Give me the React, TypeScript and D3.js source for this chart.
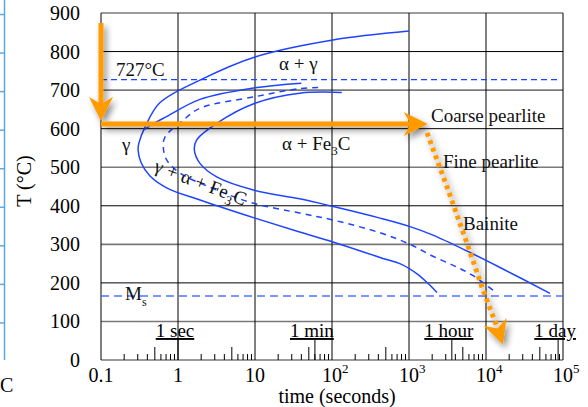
import React from "react";
import * as d3 from "d3";

// axis values
const tempTicks = [0, 100, 200, 300, 400, 500, 600, 700, 800, 900];
const timeTicks = [0.1, 1, 10, 100, 1000, 10000, 100000];
const timeTickBase = ["0.1", "1", "10", "10", "10", "10", "10"];
const timeTickExp = ["", "", "", "2", "3", "4", "5"];
const timeMarks = [1, 60, 3600, 86400];
const timeMarkLabels = ["1 sec", "1 min", "1 hour", "1 day"];

// TTT curves: [time (s), temperature (°C)]
const startCurve = [
  [1000, 853], [103, 830], [10, 786], [1.93, 726], [0.58, 667], [0.373, 604],
  [0.311, 563], [0.303, 545], [0.33, 513], [0.433, 477], [0.72, 446], [1.93, 415],
  [10, 368], [38, 332], [103, 306], [420, 266], [800, 248], [1300, 222], [1800, 197], [2310, 175],
];
const ferriteCurve = [
  [40, 718], [10, 706], [1.93, 676], [0.72, 632], [0.45, 610], [0.37, 598],
];
const halfCurve = [
  [66, 707], [38, 704], [10, 683], [1.93, 653], [1.17, 622], [0.68, 579],
  [0.644, 553], [0.713, 519], [1.06, 485], [3.18, 441], [9.4, 407], [38, 381],
  [103, 363], [420, 330], [1030, 300], [2050, 269], [4000, 243], [6900, 218], [13100, 177],
];
const finishCurve = [
  [134, 694], [38, 692], [10, 666], [3.18, 614], [1.75, 571], [1.63, 545],
  [1.93, 510], [3.18, 475], [9.5, 441], [38, 418], [104, 398], [420, 368],
  [1030, 346], [2050, 324], [6190, 279], [15200, 240], [67800, 173],
];
const eutectoidTemp = 727;
const msTemp = 166;

// cooling path
const coolDown = [[0.1, 874], [0.1, 620]];
const hold = [[0.1, 612], [1750, 612]];
const quench = [[1714, 589], [3120, 449], [5660, 303], [9140, 182], [13100, 100], [16600, 40]];

const serif = "'Liberation Serif', 'Times New Roman', serif";
const blue = "#1f44ff";
const orange = "#ff9a00";

function arrow(pts, len = 24, half = 12, notch = 7) {
  const n = pts.length;
  const [tx, ty] = pts[n - 1];
  const [px, py] = pts[n - 2];
  const d = Math.hypot(tx - px, ty - py);
  const ux = (tx - px) / d, uy = (ty - py) / d;
  const nx = -uy, ny = ux;
  const bx = tx - ux * len, by = ty - uy * len;
  const head = [
    [tx, ty],
    [bx + nx * half, by + ny * half],
    [tx - ux * (len - notch), ty - uy * (len - notch)],
    [bx - nx * half, by - ny * half],
  ];
  const line = pts.slice(0, n - 1).concat([[tx - ux * (len - notch - 1), ty - uy * (len - notch - 1)]]);
  return { line, head: head.map((p) => p.join(",")).join(" ") };
}

export default function App() {
  const x = d3.scaleLog().domain([0.1, 100000]).range([101, 563]);
  const y = d3.scaleLinear().domain([0, 900]).range([360, 13]);

  const curve = d3
    .line()
    .x((d) => x(d[0]))
    .y((d) => y(d[1]))
    .curve(d3.curveCatmullRom.alpha(0.5));
  const straight = d3.line();

  const toPx = (arr) => arr.map((d) => [x(d[0]), y(d[1])]);
  const a1 = arrow(toPx(coolDown));
  const a2 = arrow(toPx(hold));
  const a3 = arrow(toPx(quench));

  const minor = [];
  [0.1, 1, 10, 100, 1000, 10000].forEach((dec) => {
    for (let k = 2; k <= 9; k++) minor.push({ t: dec * k, long: k === 5 });
  });

  return (
    <svg width={588} height={407} style={{ position: "absolute", left: 0, top: 0, background: "#fff" }}
      fontFamily={serif}>
      <defs>
        <filter id="shadow" x="-20%" y="-20%" width="140%" height="140%">
          <feDropShadow dx="3" dy="4" stdDeviation="3" floodColor="#000" floodOpacity="0.45" />
        </filter>
      </defs>

      {/* leftover axis from neighbouring figure */}
      <line x1={4.5} x2={4.5} y1={0} y2={y(0)} stroke="#5aaae8" strokeWidth={1.5} />
      {tempTicks.slice(1).map((v) => (
        <line key={"lt" + v} x1={0} x2={4.5} y1={y(v) + 1.5} y2={y(v) + 1.5} stroke="#5aaae8" strokeWidth={1.5} />
      ))}
      <text x={0} y={392} fontSize={20}>C</text>

      {/* grid */}
      {tempTicks.map((v) => (
        <line key={"h" + v} x1={x(0.1)} x2={x(100000)} y1={y(v)} y2={y(v)}
          stroke={v % 200 === 0 && v !== 0 ? "#000" : "#7a7a7a"} strokeWidth={v % 200 === 0 && v !== 0 ? 1 : 1.6} />
      ))}
      {timeTicks.map((t) => (
        <line key={"v" + t} x1={x(t)} x2={x(t)} y1={y(900)} y2={y(0)} stroke="#000" strokeWidth={1} />
      ))}
      {minor.map((m, i) => (
        <line key={"m" + i} x1={x(m.t)} x2={x(m.t)} y1={y(0)} y2={y(0) - (m.long ? 13 : 6)} stroke="#000" strokeWidth={1} />
      ))}
      {timeMarks.map((t, i) => (
        <g key={"tm" + t}>
          <line x1={x(t)} x2={x(t)} y1={y(0)} y2={y(0) - 20} stroke="#000" strokeWidth={1} />
          <text x={x(t) - 3} y={337} fontSize={19} textAnchor="middle" textDecoration="underline">
            {timeMarkLabels[i]}
          </text>
        </g>
      ))}

      {/* axes labels */}
      {tempTicks.map((v) => (
        <text key={"yl" + v} x={80} y={y(v) + 7} fontSize={20} textAnchor="end">{v}</text>
      ))}
      {timeTicks.map((t, i) => (
        <g key={"xl" + t}>
          <text x={x(t)} y={382} fontSize={20} textAnchor="middle">{timeTickBase[i]}</text>
          {timeTickExp[i] && (
            <text x={x(t) + 10} y={373} fontSize={13}>{timeTickExp[i]}</text>
          )}
        </g>
      ))}
      <text x={337} y={403} fontSize={20} textAnchor="middle">time (seconds)</text>
      <text transform={`translate(31,181) rotate(-90)`} fontSize={20} textAnchor="middle">T (°C)</text>

      {/* reference lines */}
      <line x1={x(0.1)} x2={557} y1={y(eutectoidTemp)} y2={y(eutectoidTemp)} stroke={blue} strokeWidth={1.2} strokeDasharray="6 4" />
      <line x1={x(0.1)} x2={x(100000)} y1={y(msTemp)} y2={y(msTemp)} stroke="#4f74ff" strokeWidth={1.3} strokeDasharray="8 5" />

      {/* TTT curves */}
      <path d={curve(startCurve)} fill="none" stroke={blue} strokeWidth={1.5} />
      <path d={curve(ferriteCurve)} fill="none" stroke={blue} strokeWidth={1.5} />
      <path d={curve(halfCurve)} fill="none" stroke={blue} strokeWidth={1.5} strokeDasharray="6 5" />
      <path d={curve(finishCurve)} fill="none" stroke={blue} strokeWidth={1.5} />

      {/* region labels */}
      <g fontSize={19} fill="#111">
        <text x={116} y={76}>727°C</text>
        <text x={279} y={70}>α + γ</text>
        <text x={431} y={122}>Coarse pearlite</text>
        <text x={443} y={168}>Fine pearlite</text>
        <text x={463} y={230}>Bainite</text>
        <text x={122} y={151}>γ</text>
        <text x={282} y={150}>
          α + Fe<tspan fontSize={13} dy={5}>3</tspan><tspan dy={-5}>C</tspan>
        </text>
        <text transform="translate(153,171) rotate(21)">
          γ + α + Fe<tspan fontSize={13} dy={5}>3</tspan><tspan dy={-5}>C</tspan>
        </text>
        <text x={125} y={300}>
          M<tspan fontSize={12} dy={6}>s</tspan>
        </text>
      </g>

      {/* cooling path */}
      <g filter="url(#shadow)">
        <path d={straight(a1.line)} fill="none" stroke={orange} strokeWidth={5} />
        <polygon points={a1.head} fill={orange} />
        <path d={straight(a2.line)} fill="none" stroke={orange} strokeWidth={5} />
        <polygon points={a2.head} fill={orange} />
        <path d={straight(a3.line)} fill="none" stroke={orange} strokeWidth={5} strokeDasharray="4 4" />
        <polygon points={a3.head} fill={orange} />
      </g>
    </svg>
  );
}
